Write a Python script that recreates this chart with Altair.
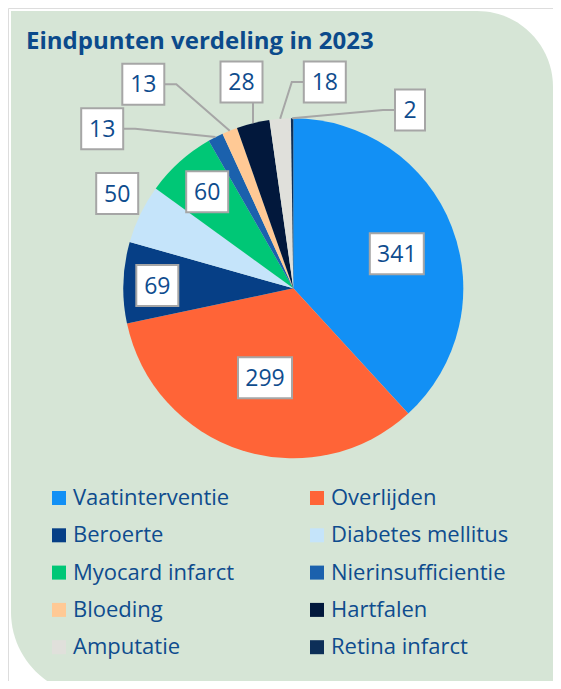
import math
import altair as alt
import pandas as pd

# ---------------- data ----------------
categories = ["Vaatinterventie", "Overlijden", "Beroerte", "Diabetes mellitus",
              "Myocard infarct", "Nierinsufficientie", "Bloeding", "Hartfalen",
              "Amputatie", "Retina infarct"]
values = [341, 299, 69, 50, 60, 13, 13, 28, 18, 2]
colors = ["#1290F5", "#FF6437", "#063F86", "#C5E4FA", "#00C776",
          "#1B61AD", "#FFC995", "#02183C", "#E0E0DB", "#0D2F58"]
title_text = "Eindpunten verdeling in 2023"

# ---------------- layout ----------------
W, H = 545, 673
CX, CY, R = 285.3, 280.3, 170
# label box centre offsets from pie centre (px)
label_dx = [103.5, -28.3, -136.0, -176.1, -86.1, -191.1, -150.0, -51.8, 31.5, 116.7]
label_dy = [-34.6, 89.5, -2.8, -94.8, -96.5, -159.5, -204.1, -206.3, -206.3, -178.3]
has_leader = [False, False, False, False, False, True, True, True, True, True]
BOX_H = 41
TXT = "#0E4C8E"
BG = "#D6E5D6"
FONT = "Open Sans"

total = sum(values)
df = pd.DataFrame({"cat": categories, "value": values, "idx": range(len(values))})

# legend is filled column by column: reorder so it reads row-wise like the original
leg_order = [categories[i] for i in range(0, len(categories), 2)] + \
            [categories[i] for i in range(1, len(categories), 2)]
leg_colors = [colors[categories.index(c)] for c in leg_order]

# label boxes
rows = []
lines = []
cum = 0
for i, (c, v) in enumerate(zip(categories, values)):
    mid = (cum + v / 2) / total * 2 * math.pi
    cum += v
    lx, ly = CX + label_dx[i], CY + label_dy[i]
    bw = 12 * len(str(v)) + 18
    rows.append({"cat": c, "label": str(v), "x": lx, "y": ly,
                 "x0": lx - bw / 2, "x1": lx + bw / 2,
                 "y0": ly - BOX_H / 2, "y1": ly + BOX_H / 2})
    if has_leader[i]:
        ex, ey = CX + R * math.sin(mid), CY - R * math.cos(mid)
        if lx - bw / 2 <= ex <= lx + bw / 2:
            pts = [(ex, ly + BOX_H / 2), (ex, ey)]
        elif ex > lx:
            sx = lx + bw / 2
            pts = [(sx, ly), (sx + 12, ly), (ex, ey)]
        else:
            sx = lx - bw / 2
            pts = [(sx, ly), (sx - 12, ly), (ex, ey)]
        for k, (px, py) in enumerate(pts):
            lines.append({"cat": c, "k": k, "x": px, "y": py})
labels = pd.DataFrame(rows)
leaders = pd.DataFrame(lines)

xs = alt.Scale(domain=[0, W], range=[0, W], nice=False, zero=False)
ys = alt.Scale(domain=[0, H], range=[0, H], nice=False, zero=False)

bg = alt.Chart(pd.DataFrame({"a": [0]})).mark_rect(
    fill=BG, cornerRadiusTopRight=76, cornerRadiusBottomLeft=84
).encode(x=alt.value(3), x2=alt.value(W), y=alt.value(3), y2=alt.value(H + 15))

title = alt.Chart(pd.DataFrame({"t": [title_text]})).mark_text(
    font=FONT, fontSize=24, fontWeight="bold", color="#0B4A8B",
    align="left", baseline="alphabetic"
).encode(text="t:N", x=alt.value(18), y=alt.value(40.5))

pie = alt.Chart(df).mark_arc(radius=R).encode(
    theta=alt.Theta("value:Q", stack=True),
    order=alt.Order("idx:Q"),
    color=alt.Color("cat:N", scale=alt.Scale(domain=leg_order, range=leg_colors),
                    sort=leg_order,
                    legend=alt.Legend(orient="none", legendX=40, legendY=479,
                                      columns=2, title=None, padding=0,
                                      symbolType="square", symbolSize=196,
                                      symbolStrokeWidth=0, symbolOpacity=1,
                                      labelFont=FONT, labelFontSize=22,
                                      labelColor=TXT, labelOffset=3,
                                      rowPadding=15.3, columnPadding=71,
                                      labelLimit=300)),
    x=alt.value(CX), y=alt.value(CY),
)

lead = alt.Chart(leaders).mark_line(color="#A6A6A6", strokeWidth=2).encode(
    x=alt.X("x:Q", scale=xs, axis=None),
    y=alt.Y("y:Q", scale=ys, axis=None),
    detail="cat:N", order="k:Q",
)

boxes = alt.Chart(labels).mark_rect(fill="white", stroke="#A6A6A6", strokeWidth=2).encode(
    x=alt.X("x0:Q", scale=xs, axis=None), x2="x1:Q",
    y=alt.Y("y0:Q", scale=ys, axis=None), y2="y1:Q",
)

texts = alt.Chart(labels).mark_text(font=FONT, fontSize=23, color=TXT,
                                     align="center", baseline="middle", dy=1).encode(
    x=alt.X("x:Q", scale=xs, axis=None),
    y=alt.Y("y:Q", scale=ys, axis=None),
    text="label:N",
)

chart = alt.layer(bg, title, pie, lead, boxes, texts).properties(
    width=W, height=H, padding=0, autosize=alt.AutoSizeParams(type="none")
).configure_view(stroke=None).configure(background="white")

chart.save("out.html", embed_options={"renderer": "svg", "actions": False})
